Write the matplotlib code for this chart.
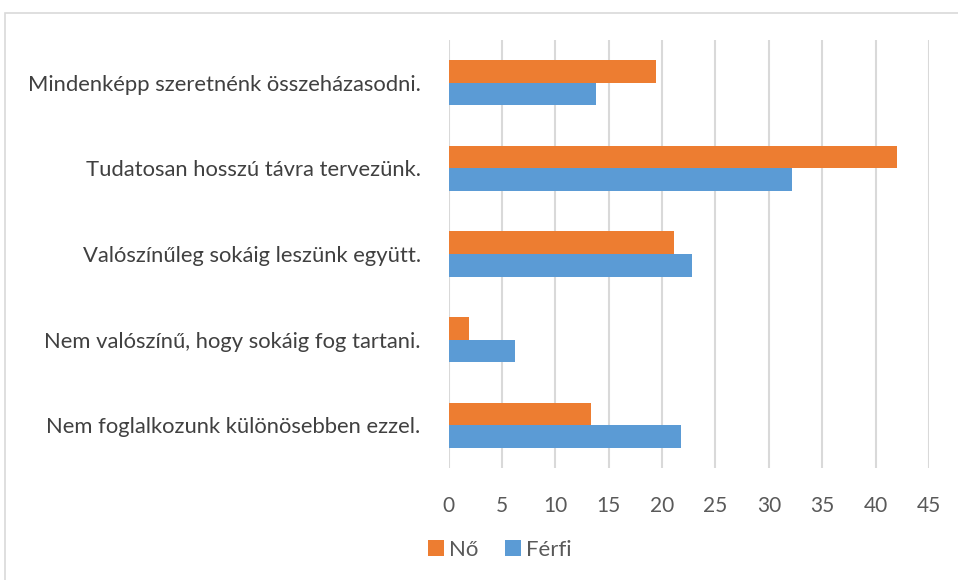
import numpy as np
import matplotlib.pyplot as plt
from matplotlib.patches import Rectangle

kategoriak = ['Mindenképp szeretnénk összeházasodni.',
              'Tudatosan hosszú távra tervezünk.',
              'Valószínűleg sokáig leszünk együtt.',
              'Nem valószínű, hogy sokáig fog tartani.',
              'Nem foglalkozunk különösebben ezzel.']
no = [19.4, 42.0, 21.1, 1.9, 13.3]
ferfi = [13.8, 32.2, 22.8, 6.2, 21.8]
xticks = [0, 5, 10, 15, 20, 25, 30, 35, 40, 45]

plt.rcParams['font.family'] = ['Lato', 'DejaVu Sans']

fig = plt.figure(figsize=(9.58, 5.8), dpi=100)
fig.patches.append(Rectangle((5/958, -0.1), 1.1, 1 - 13/580 + 0.1, transform=fig.transFigure,
                             fill=False, edgecolor='#D9D9D9', linewidth=1.2))
ax = fig.add_axes([448.5/958, 1 - 468/580, (929 - 448.5)/958, (468 - 40)/580])

y = np.arange(len(kategoriak))
h = 0.265
ax.barh(y - h/2, no, height=h, color='#ED7D31', label='Nő', zorder=3)
ax.barh(y + h/2, ferfi, height=h, color='#5B9BD5', label='Férfi', zorder=3)

ax.set_ylim(len(kategoriak) - 0.5, -0.5)
ax.set_xlim(0, 45)
ax.set_xticks(xticks)
ax.set_yticks(y)
ax.set_yticklabels(kategoriak, fontsize=15.8, color='#404040')
ax.tick_params(axis='x', labelsize=15, colors='#595959', length=0, pad=20)
ax.tick_params(axis='y', length=0, pad=20)
ax.grid(axis='x', color='#D9D9D9', linewidth=1.5, zorder=0)
for s in ax.spines.values():
    s.set_visible(False)

leg = fig.legend(loc='center', bbox_to_anchor=(500/958, 1 - 550/580), ncol=2, frameon=False,
                 fontsize=16, handlelength=0.7, handleheight=0.7, handletextpad=0.25,
                 columnspacing=1.2, labelcolor='#595959')

fig.savefig('out.png', dpi=100)
